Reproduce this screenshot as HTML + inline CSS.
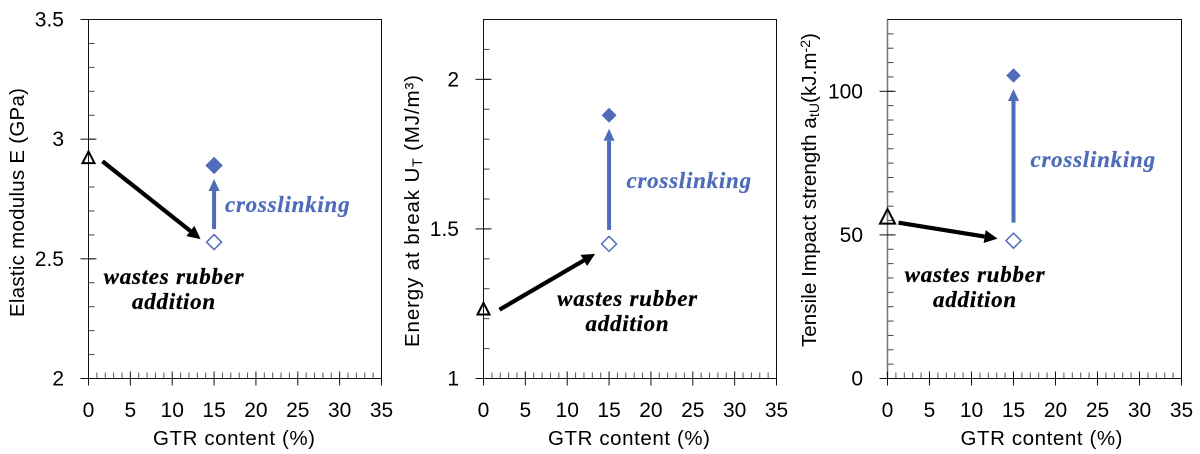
<!DOCTYPE html>
<html>
<head>
<meta charset="utf-8">
<style>
html,body{margin:0;padding:0;background:#fff;width:1200px;height:454px;overflow:hidden}
svg{display:block}
text{font-family:"Liberation Sans",sans-serif;fill:#000}
.tick{font-size:21px}
.title{font-size:20.5px}
.note{font-family:"Liberation Serif",serif;font-weight:bold;font-style:italic;font-size:23px;letter-spacing:.75px;stroke:#000;stroke-width:.25px}
.note.blue{fill:#4f6cb8;stroke:#4f6cb8}
</style>
</head>
<body>
<svg id="chart" width="1200" height="454" viewBox="0 0 1200 454" xmlns="http://www.w3.org/2000/svg">
  <rect width="1200" height="454" fill="#fff"/>

  <g id="p1">
    <text class="title" transform="translate(24,317) rotate(-90)" textLength="229">Elastic modulus E (GPa)</text>
    <text class="title" x="234" y="445" text-anchor="middle" textLength="162">GTR content (%)</text>
    <text class="note blue" x="225" y="212">crosslinking</text>
    <text class="note" x="174" y="284" text-anchor="middle">wastes rubber</text>
    <text class="note" x="174" y="309" text-anchor="middle">addition</text>
  </g>

  <g id="p2">
    <text class="title" transform="translate(419,347) rotate(-90)" textLength="272">Energy at break U<tspan font-size="14" dy="3">T</tspan><tspan dy="-3"> (MJ/m³)</tspan></text>
    <text class="title" x="629" y="445" text-anchor="middle" textLength="162">GTR content (%)</text>
    <text class="note blue" x="626.5" y="188">crosslinking</text>
    <text class="note" x="627.5" y="306" text-anchor="middle">wastes rubber</text>
    <text class="note" x="627.5" y="331" text-anchor="middle">addition</text>
  </g>

  <g id="p3">
    <text class="title" transform="translate(816,347) rotate(-90)" textLength="314">Tensile Impact strength a<tspan font-size="14" dy="3">tU</tspan><tspan dy="-3">(kJ.m</tspan><tspan font-size="14" dy="-6">-2</tspan><tspan dy="6">)</tspan></text>
    <text class="title" x="1041.5" y="445" text-anchor="middle" textLength="162">GTR content (%)</text>
    <text class="note blue" x="1030.5" y="167">crosslinking</text>
    <text class="note" x="975" y="282" text-anchor="middle">wastes rubber</text>
    <text class="note" x="975" y="307" text-anchor="middle">addition</text>
  </g>
</svg>

<script>
// Shared x axis
const xTickLabels = ['0', '5', '10', '15', '20', '25', '30', '35'];
// GTR content of: neat matrix, uncrosslinked blend, crosslinked blend
const gtrContent = [0, 15, 15];

// Series values: neat matrix, uncrosslinked blend, crosslinked blend
const modulusValues = [2.92, 2.57, 2.89];
const energyValues = [1.23, 1.45, 1.88];
const impactValues = [56, 48, 105.5];

// Y axis labels
const modulusTicks = ['2', '2.5', '3', '3.5'];
const energyTicks = ['1', '1.5', '2'];
const impactTicks = ['0', '50', '100'];

const NS = 'http://www.w3.org/2000/svg';
const BLUE = '#4f6cb8';
const TOP = 19.5, BOTTOM = 378.5;

function mk(parent, tag, attrs) {
  const el = document.createElementNS(NS, tag);
  for (const k in attrs) el.setAttribute(k, attrs[k]);
  parent.appendChild(el);
  return el;
}

function arrow(g, x1, y1, x2, y2, color, w, headL, headW, label) {
  const a = Math.atan2(y2 - y1, x2 - x1);
  const c = Math.cos(a), s = Math.sin(a);
  const bx = x2 - c * headL, by = y2 - s * headL;
  const shaft = mk(g, 'line', {x1: x1, y1: y1, x2: bx, y2: by, stroke: color, 'stroke-width': w});
  
  
  const head = mk(g, 'polygon', {
    points: [x2, y2, bx - s * headW / 2, by + c * headW / 2, bx + s * headW / 2, by - c * headW / 2].join(' '),
    fill: color
  });
  
  
}

function drawPanel(id, x0, x35, yMin, yMax, minorStep, yTicks, labelRight, values, offs, blueStart, triSize, filledSize, axisColor) {
  const g = document.getElementById(id);
  const X = v => x0 + (v - 0) / 35 * (x35 - x0);
  const Y = v => BOTTOM - (v - yMin) / (yMax - yMin) * (BOTTOM - TOP);

  const frame = mk(g, 'rect', {x: x0, y: TOP, width: x35 - x0, height: BOTTOM - TOP, fill: 'none', stroke: '#111', 'stroke-width': 1});
  
  

  const yAxis = mk(g, 'line', {x1: x0, x2: x0, y1: TOP, y2: BOTTOM, stroke: axisColor, 'stroke-width': axisColor === '#111' ? 1 : 1.5});
  
  

  // minor y ticks
  const nY = Math.round((yMax - yMin) / minorStep);
  for (let i = 1; i < nY; i++) {
    const y = Y(yMin + i * minorStep);
    const t = mk(g, 'line', {x1: x0, x2: x0 + 6, y1: y, y2: y, stroke: '#444', 'stroke-width': 1});
    
    
  }
  // major y ticks and labels
  yTicks.forEach(lbl => {
    const y = Y(parseFloat(lbl));
    const t = mk(g, 'line', {x1: x0 - 8, x2: x0 + 8, y1: y, y2: y, stroke: '#111', 'stroke-width': 1});
    
    
    const txt = mk(g, 'text', {x: labelRight, y: y + 7, 'text-anchor': 'end', class: 'tick'});
    txt.textContent = lbl;
    
    
  });
  // minor x ticks
  for (let v = 1; v < 35; v++) {
    if (v % 5 === 0) continue;
    const x = X(v);
    const t = mk(g, 'line', {x1: x, x2: x, y1: BOTTOM - 6, y2: BOTTOM, stroke: '#555', 'stroke-width': 1});
    
    
  }
  // major x ticks and labels
  xTickLabels.forEach(lbl => {
    const x = X(parseFloat(lbl));
    const t = mk(g, 'line', {x1: x, x2: x, y1: BOTTOM - 7, y2: BOTTOM + 7, stroke: '#111', 'stroke-width': 1});
    
    
    const txt = mk(g, 'text', {x: x, y: 417, 'text-anchor': 'middle', class: 'tick'});
    txt.textContent = lbl;
    
    
  });
  // bottom axis line extending left through the major tick
  const base = mk(g, 'line', {x1: x0 - 8, x2: x35, y1: BOTTOM, y2: BOTTOM, stroke: '#111', 'stroke-width': 1});
  
  

  const px = gtrContent.map(X), py = values.map(Y);

  // arrows follow the data points they connect
  arrow(g, px[0] + offs[0], py[0] + offs[1], px[1] + offs[2], py[1] + offs[3], '#000', 4.2, 13, 13, 'rubber-arrow');
  arrow(g, px[1], py[1] - blueStart, px[2], py[2] + 13.5, BLUE, 4, 12, 11, 'crosslinking-arrow');

  const tri = mk(g, 'polygon', {
    points: [px[0], py[0] - triSize * 1.15, px[0] + triSize, py[0] + triSize * 0.8, px[0] - triSize, py[0] + triSize * 0.8].join(' '),
    fill: 'none', stroke: '#000', 'stroke-width': 2
  });
  
  

  const d = 7.5;
  const open = mk(g, 'polygon', {
    points: [px[1], py[1] - d, px[1] + d, py[1], px[1], py[1] + d, px[1] - d, py[1]].join(' '),
    fill: '#fff', stroke: BLUE, 'stroke-width': 1.5
  });
  
  

  const e = filledSize;
  const filled = mk(g, 'polygon', {
    points: [px[2], py[2] - e, px[2] + e, py[2], px[2], py[2] + e, px[2] - e, py[2]].join(' '),
    fill: BLUE
  });
  
  
}

drawPanel('p1', 88.5, 381.5, 2, 3.5, 0.1, modulusTicks, 64, modulusValues, [14, 3, -13.5, -3], 13, 6, 8.7, '#111');
drawPanel('p2', 483.5, 776.5, 1, 2.2, 0.1, energyTicks, 459, energyValues, [16, 0, -14, 10], 14, 6, 7.5, '#111');
drawPanel('p3', 887.5, 1181.5, 0, 125, 5, impactTicks, 863, impactValues, [11, 5, -16, -2], 18, 7.5, 7.3, '#777');
</script>
</body>
</html>
